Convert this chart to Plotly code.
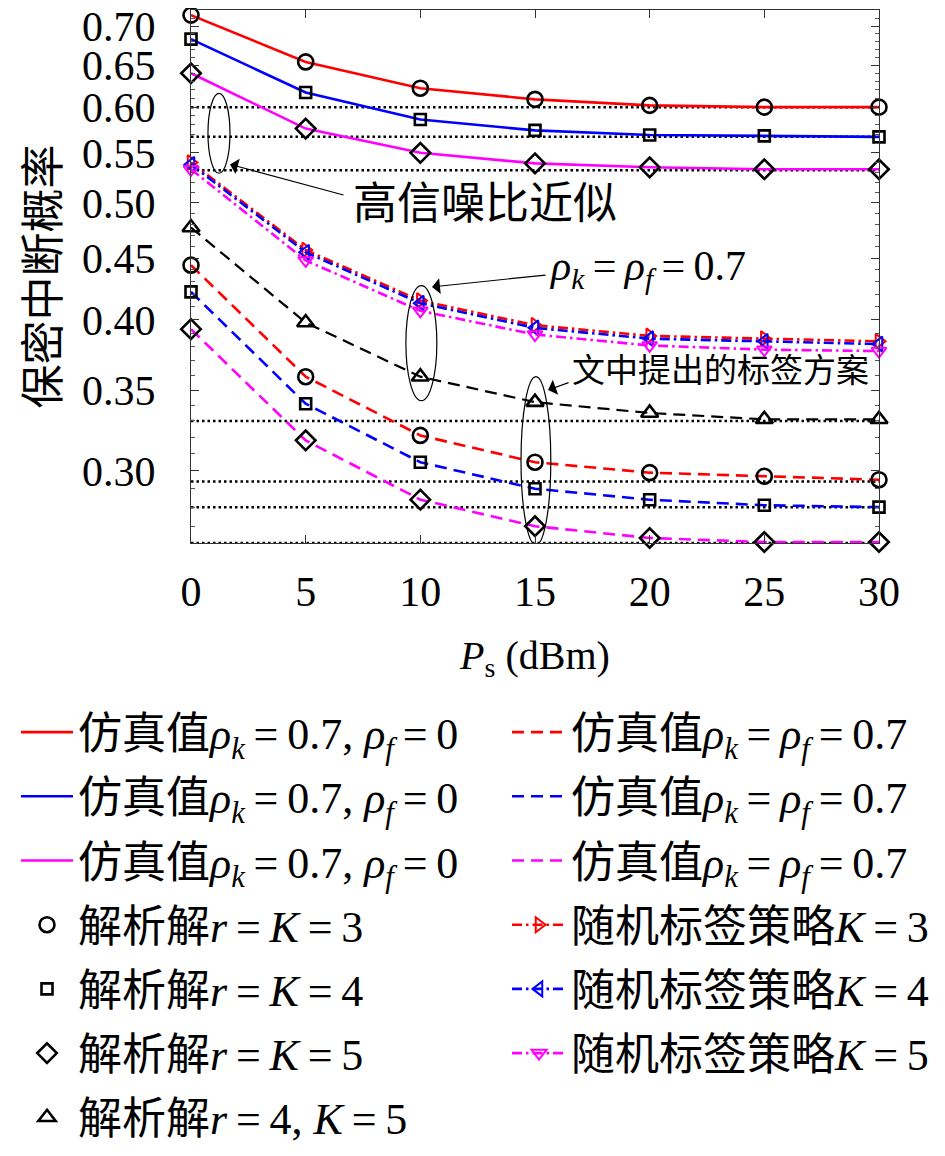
import numpy as np
import plotly.graph_objects as go

# ---------------- data ----------------
ps_dbm = [0, 5, 10, 15, 20, 25, 30]

# 仿真值 rho_k=0.7, rho_f=0 (solid)
sim_k3_f0 = [0.715, 0.654, 0.622, 0.609, 0.602, 0.600, 0.600]
sim_k4_f0 = [0.683, 0.617, 0.586, 0.574, 0.569, 0.568, 0.567]
sim_k5_f0 = [0.640, 0.576, 0.550, 0.539, 0.535, 0.533, 0.533]
# 仿真值 rho_k=rho_f=0.7 (dashed)
sim_k3_f7 = [0.444, 0.359, 0.321, 0.305, 0.299, 0.297, 0.295]
sim_k4_f7 = [0.422, 0.341, 0.305, 0.290, 0.284, 0.281, 0.280]
sim_k5_f7 = [0.393, 0.318, 0.284, 0.270, 0.264, 0.262, 0.262]
# 解析解 r=4, K=5
ana_r4_k5 = [0.477, 0.398, 0.359, 0.342, 0.335, 0.331, 0.331]
# 随机标签策略
rand_k3 = [0.540, 0.457, 0.415, 0.396, 0.388, 0.386, 0.384]
rand_k4 = [0.538, 0.455, 0.413, 0.394, 0.386, 0.384, 0.382]
rand_k5 = [0.533, 0.448, 0.407, 0.389, 0.381, 0.378, 0.377]
# 高信噪比近似 (asymptotes)
high_snr = [0.600, 0.567, 0.532, 0.330, 0.294, 0.280, 0.2615]

y_ticks = [0.30, 0.35, 0.40, 0.45, 0.50, 0.55, 0.60, 0.65, 0.70]
y_ticktext = ["0.30", "0.35", "0.40", "0.45", "0.50", "0.55", "0.60", "0.65", "0.70"]
y_minor = [round(0.27 + 0.01 * i, 2) for i in range(45)]
y_range = [0.2615, 0.722]

RED, BLUE, MAG, BLACK = "#ff0000", "#0000ff", "#ff00ff", "#000000"
SERIF = "Liberation Serif, Noto Sans CJK SC"
CJK = "Noto Sans CJK SC"
TS = "\u2009"  # thin space around relations
EQ = TS + "=" + TS

RK0 = "<i>ρ</i><sub><i>k</i></sub>" + EQ + "0.7, <i>ρ</i><sub><i>f</i></sub>" + EQ + "0"
RKF = "<i>ρ</i><sub><i>k</i></sub>" + EQ + "<i>ρ</i><sub><i>f</i></sub>" + EQ + "0.7"

DASH = "12px,7px"
DOT = "2.5px,3px"
DASHDOT = "10px,4px,2.5px,4px"

fig = go.Figure()

# dotted high-SNR approximation lines
for v in high_snr:
    fig.add_trace(go.Scatter(x=[ps_dbm[0], ps_dbm[-1]], y=[v, v], mode="lines",
                             line=dict(color=BLACK, width=2.5, dash=DOT),
                             showlegend=False, hoverinfo="skip"))

# black dashed r=4,K=5 curve (no legend line)
fig.add_trace(go.Scatter(x=ps_dbm, y=ana_r4_k5, mode="lines",
                         line=dict(color=BLACK, width=2.2, dash=DASH),
                         showlegend=False))

gi = [0]
def grp():
    gi[0] += 1
    return "g%d" % gi[0]

# left legend: simulation solid
for ys, c in [(sim_k3_f0, RED), (sim_k4_f0, BLUE), (sim_k5_f0, MAG)]:
    fig.add_trace(go.Scatter(x=ps_dbm, y=ys, mode="lines", name="仿真值" + RK0,
                             line=dict(color=c, width=2.6), legend="legend",
                             legendgroup=grp()))

# right legend: simulation dashed
for ys, c in [(sim_k3_f7, RED), (sim_k4_f7, BLUE), (sim_k5_f7, MAG)]:
    fig.add_trace(go.Scatter(x=ps_dbm, y=ys, mode="lines", name="仿真值" + RKF,
                             line=dict(color=c, width=2.6, dash=DASH), legend="legend2",
                             legendgroup=grp()))

# random tag strategies
for ys, c, sym, k in [(rand_k3, RED, "triangle-right-open", 3),
                      (rand_k4, BLUE, "triangle-left-open", 4),
                      (rand_k5, MAG, "triangle-down-open", 5)]:
    fig.add_trace(go.Scatter(x=ps_dbm, y=ys, mode="lines+markers",
                             name="随机标签策略<i>K</i>" + EQ + "%d" % k,
                             line=dict(color=c, width=2.6, dash=DASHDOT),
                             marker=dict(symbol=sym, size=13, color=c, line=dict(width=2, color=c)),
                             legend="legend2", legendgroup=grp(), cliponaxis=False))

# analytic markers
for a, b, sym, size, name in [(sim_k3_f0, sim_k3_f7, "circle-open", 15, "解析解<i>r</i>" + EQ + "<i>K</i>" + EQ + "3"),
                              (sim_k4_f0, sim_k4_f7, "square-open", 11, "解析解<i>r</i>" + EQ + "<i>K</i>" + EQ + "4"),
                              (sim_k5_f0, sim_k5_f7, "diamond-open", 15, "解析解<i>r</i>" + EQ + "<i>K</i>" + EQ + "5")]:
    fig.add_trace(go.Scatter(x=ps_dbm + [None] + ps_dbm, y=a + [None] + b, mode="markers",
                             name=name,
                             marker=dict(symbol=sym, size=size, color=BLACK, line=dict(width=2.6, color=BLACK)),
                             legend="legend", legendgroup=grp(), cliponaxis=False))
fig.add_trace(go.Scatter(x=ps_dbm, y=ana_r4_k5, mode="markers",
                         name="解析解<i>r</i>" + EQ + "4, <i>K</i>" + EQ + "5",
                         marker=dict(symbol="triangle-up-open", size=15, color=BLACK,
                                     line=dict(width=2.6, color=BLACK)),
                         legend="legend", legendgroup=grp(), cliponaxis=False))

# ellipses
ell = [(0.74, 1.70, 0.529, 0.616), (9.37, 10.72, 0.343, 0.427), (14.39, 15.69, 0.2605, 0.359)]
for x0, x1, y0, y1 in ell:
    fig.add_shape(type="circle", xref="x", yref="y", x0=x0, x1=x1, y0=y0, y1=y1,
                  line=dict(color=BLACK, width=1.2))

L = np.log10
annos = [
    dict(x=12.8, y=L(0.503), text="高信噪比近似", font=dict(family=CJK, size=44, color=BLACK),
         showarrow=False),
    dict(x=19.9, y=L(0.441), text=RKF, font=dict(family=SERIF, size=42, color=BLACK), showarrow=False),
    dict(x=23.1, y=L(0.365), text="文中提出的标签方案", font=dict(family=CJK, size=33, color=BLACK),
         showarrow=False),
    dict(x=1.70, y=L(0.538), ax=115, ay=31, text="", showarrow=True, arrowhead=1, arrowsize=2.2,
         arrowwidth=1.2, arrowcolor=BLACK),
    dict(x=10.51, y=L(0.426), ax=115, ay=-12, text="", showarrow=True, arrowhead=1, arrowsize=2.2,
         arrowwidth=1.2, arrowcolor=BLACK),
    dict(x=15.57, y=L(0.350), ax=22, ay=-8, text="", showarrow=True, arrowhead=1, arrowsize=2.2,
         arrowwidth=1.2, arrowcolor=BLACK),
]
for a in annos:
    fig.add_annotation(xref="x", yref="y", **a)

# page has an 8px body margin, so the figure is drawn 8px smaller and offset
W, H = 937, 1148
ML, MR, MT, MB = 183, 66, 2, 613
PW, PH = W - ML - MR, H - MT - MB
leg_top_px = 689
fig.update_layout(
    width=W, height=H,
    margin=dict(l=ML, r=MR, t=MT, b=MB),
    paper_bgcolor="white", plot_bgcolor="white",
    font=dict(family=SERIF, color=BLACK),
    legend=dict(x=(8 - ML) / PW, y=((H - MB) - leg_top_px) / PH,
                xanchor="left", yanchor="top",
                font=dict(family=SERIF, size=44, color=BLACK),
                bgcolor="rgba(0,0,0,0)", itemwidth=52, tracegroupgap=4, traceorder="grouped"),
    legend2=dict(x=(499 - ML) / PW, y=((H - MB) - leg_top_px) / PH,
                 xanchor="left", yanchor="top",
                 font=dict(family=SERIF, size=44, color=BLACK),
                 bgcolor="rgba(0,0,0,0)", itemwidth=54, tracegroupgap=4, traceorder="grouped"),
)

fig.update_xaxes(range=[ps_dbm[0], ps_dbm[-1]], tickvals=ps_dbm, ticks="inside", ticklen=8,
                 tickwidth=1, tickcolor="#333", showline=True, linecolor="#333", linewidth=1,
                 mirror="allticks", showgrid=False, zeroline=False, automargin=False,
                 tickfont=dict(family="Liberation Serif", size=42, color=BLACK),
                 ticklabelstandoff=12, ticklabeloverflow="allow",
                 title=dict(text="<i>P</i><sub>s</sub> (dBm)", standoff=26,
                            font=dict(family="Liberation Serif", size=40, color=BLACK)))
fig.update_yaxes(type="log", range=[L(y_range[0]), L(y_range[1])], tickvals=y_ticks, ticktext=y_ticktext,
                 ticks="inside", ticklen=8, tickwidth=1, tickcolor="#333",
                 minor=dict(tickvals=y_minor, ticks="inside", ticklen=4, tickcolor="#555"),
                 showline=True, linecolor="#333", linewidth=1, mirror="allticks",
                 showgrid=False, zeroline=False, automargin=False,
                 tickfont=dict(family="Liberation Serif", size=42, color=BLACK),
                 ticklabelstandoff=26, ticklabeloverflow="allow",
                 title=dict(text="保密中断概率", standoff=38,
                            font=dict(family=CJK, size=44, color=BLACK)))

fig.write_html("out.html")
